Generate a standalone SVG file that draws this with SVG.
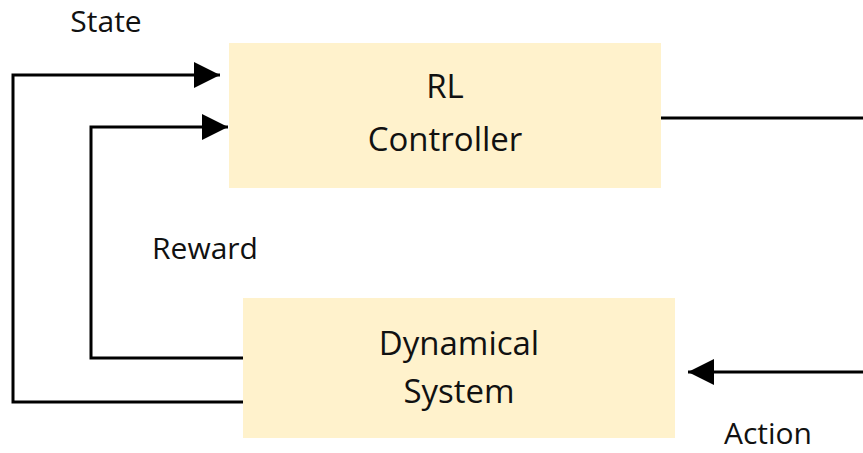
<svg xmlns="http://www.w3.org/2000/svg" width="863" height="453" viewBox="0 0 863 453">
<defs>
<style>
.box{fill:#FFF2CC;stroke:none}
.t{font-family:"Open Sans","Noto Sans",sans-serif;font-size:30px;fill:#111;text-anchor:middle}
.b{font-size:33px}
.c{fill:none;stroke:#000;stroke-width:3}
</style>
<marker id="ah" markerUnits="userSpaceOnUse" markerWidth="28" markerHeight="26" refX="26" refY="13" orient="auto">
<path d="M0,0 L26,13 L0,26 Z" fill="#000"/>
</marker>
</defs>
<rect width="863" height="453" fill="#fff"/>
<g id="rl-controller">
<rect class="box" x="229" y="43" width="432" height="145"/>
<text class="t b" x="445" y="98">RL</text>
<text class="t b" x="445" y="151">Controller</text>
</g>
<g id="dynamical-system">
<rect class="box" x="243" y="298" width="432" height="140"/>
<text class="t b" x="459" y="355">Dynamical</text>
<text class="t b" x="459" y="403">System</text>
</g>
<g id="connectors">
<polyline class="c" points="243,402 13,402 13,75 220,75" marker-end="url(#ah)"/>
<polyline class="c" points="243,358 91,358 91,127 228,127" marker-end="url(#ah)"/>
<line class="c" x1="661" y1="118" x2="863" y2="118"/>
<line class="c" x1="863" y1="372" x2="688" y2="372" marker-end="url(#ah)"/>
</g>
<g id="labels">
<text class="t" x="106" y="32">State</text>
<text class="t" x="205" y="259">Reward</text>
<text class="t" x="768" y="444">Action</text>
</g>
</svg>
